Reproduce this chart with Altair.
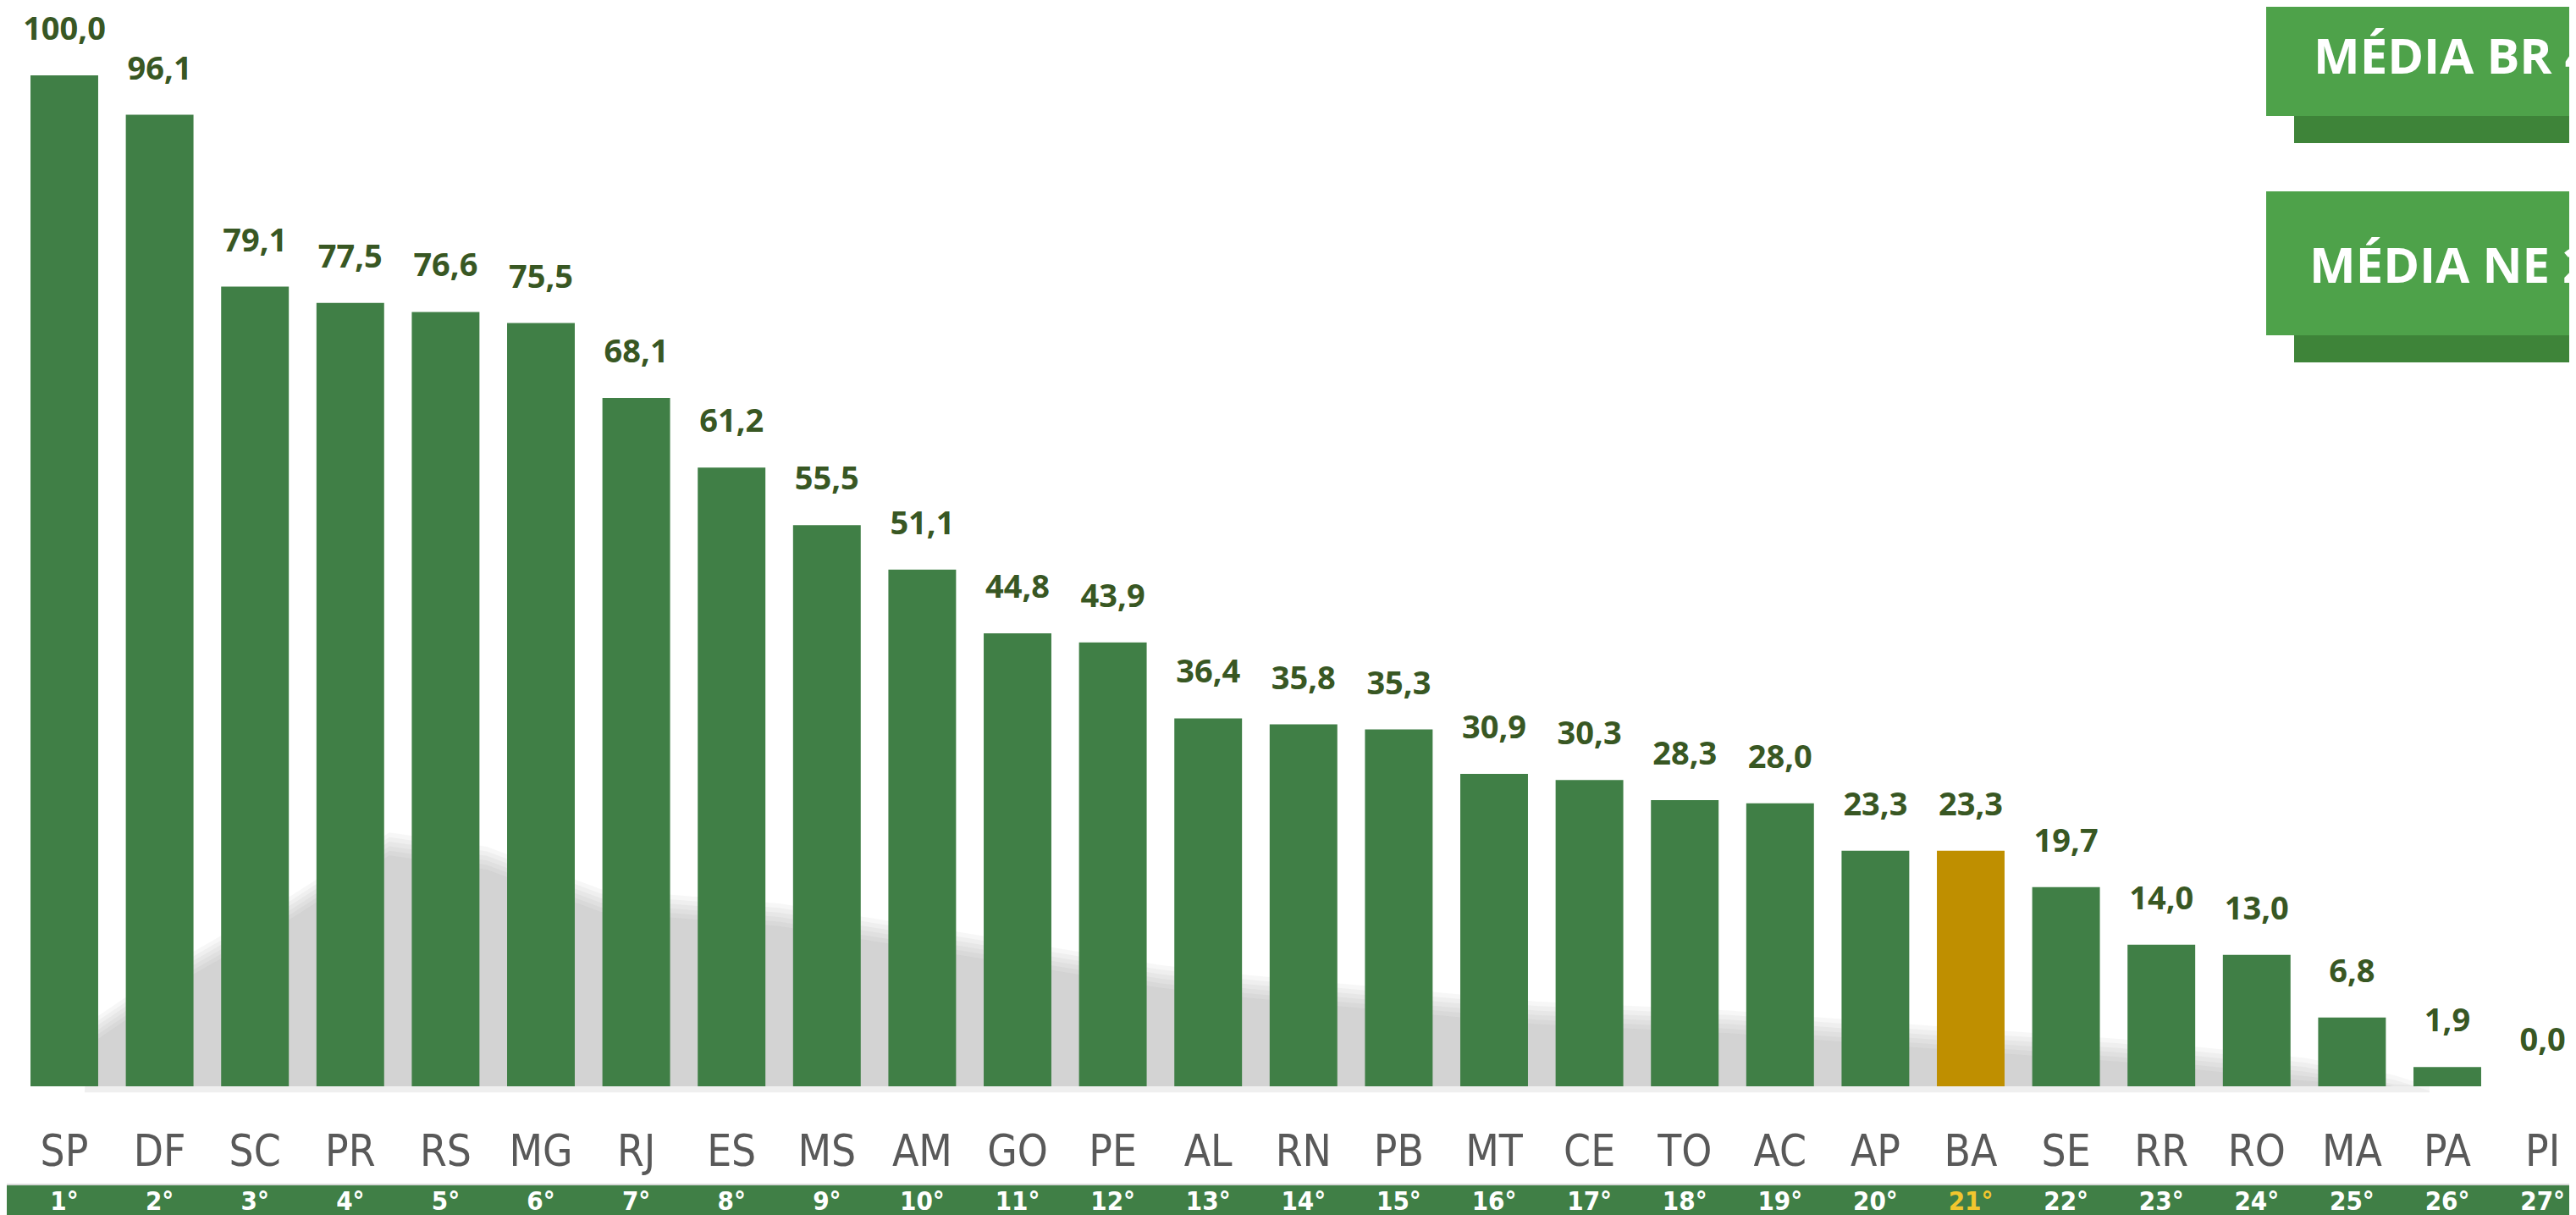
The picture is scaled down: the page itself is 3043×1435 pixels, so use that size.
import altair as alt
import pandas as pd

states = ["SP", "DF", "SC", "PR", "RS", "MG", "RJ", "ES", "MS", "AM", "GO", "PE", "AL", "RN",
          "PB", "MT", "CE", "TO", "AC", "AP", "BA", "SE", "RR", "RO", "MA", "PA", "PI"]
values = [100.0, 96.1, 79.1, 77.5, 76.6, 75.5, 68.1, 61.2, 55.5, 51.1, 44.8, 43.9, 36.4, 35.8,
          35.3, 30.9, 30.3, 28.3, 28.0, 23.3, 23.3, 19.7, 14.0, 13.0, 6.8, 1.9, 0.0]
ranks = ["1°", "2°", "3°", "4°", "5°", "6°", "7°", "8°", "9°", "10°", "11°", "12°", "13°", "14°",
         "15°", "16°", "17°", "18°", "19°", "20°", "21°", "22°", "23°", "24°", "25°", "26°", "27°"]
highlight = "BA"
box_texts = ["MÉDIA BR 42,8", "MÉDIA NE  25,7"]

# decorative soft shadow behind the bars (horizontal pixel position, height in value units)
shadow_px = [92, 107, 222, 337, 452, 567, 702, 912, 1122, 1362, 1467, 1806, 2035, 2255, 2495, 2715, 2820, 2862]
shadow_v = [0.0, 6.9, 13.4, 18.9, 25.1, 23.7, 19.5, 18.1, 15.3, 12.0, 11.0, 8.4, 7.5, 6.1, 4.7, 2.8, 1.1, 0.0]

GREEN = "#407F46"
GOLD = "#BF8F00"
LABEL = "#385723"
BOX = "#4EA24A"
BOX_SHADOW = "#3E8439"
CAT_FONT = "Liberation Sans Narrow, DejaVu Sans Condensed, sans-serif"
W, H = 3027, 1427

df = pd.DataFrame({
    "state": states,
    "value": values,
    "label": [f"{v:.1f}".replace(".", ",") for v in values],
    "rank": ranks,
    "hl": ["h" if s == highlight else "n" for s in states],
})

xscale = alt.Scale(domain=states, range=[11.7, 3051.9], paddingInner=0.29, paddingOuter=0.145)
yscale = alt.Scale(domain=[0, 100], range=[1275, 81], nice=False, zero=True)
X = alt.X("state:N", sort=states, scale=xscale, axis=None)
Y = alt.Y("value:Q", scale=yscale, axis=None)

base = alt.Chart(df)

# shadow layers
shadow_layers = []
for i in range(6):
    low = -0.6 if i < 2 else 0.0
    sdf = pd.DataFrame({
        "px": shadow_px,
        "top": [max(v - i * 0.45, low) for v in shadow_v],
        "bottom": [low] * len(shadow_v),
    })
    shadow_layers.append(
        alt.Chart(sdf).mark_area(color="#6E6E6E", opacity=0.055).encode(
            x=alt.X("px:Q", scale=alt.Scale(domain=[0, W], range=[0, W], nice=False, zero=False), axis=None),
            y=alt.Y("top:Q", scale=yscale, axis=None),
            y2="bottom:Q",
        )
    )
shadow = alt.layer(*shadow_layers)

bars = base.mark_bar().encode(
    x=X, y=Y,
    color=alt.Color("hl:N", scale=alt.Scale(domain=["n", "h"], range=[GREEN, GOLD]), legend=None),
)

vlabels = base.mark_text(
    dy=-42, baseline="alphabetic", align="center", font="Open Sans", fontWeight="bold",
    fontSize=38, color=LABEL,
).encode(x=X, y=Y, text="label:N")

cats = base.mark_text(
    baseline="alphabetic", align="center", font=CAT_FONT, fontSize=51, color="#595959",
).encode(x=X, y=alt.value(1369), text="state:N")

one = alt.Chart(pd.DataFrame({"k": [0]}))

band_line = one.mark_rect(color="#D9D9D9").encode(
    x=alt.value(0), x2=alt.value(W), y=alt.value(1390), y2=alt.value(1392))
band = one.mark_rect(color=GREEN).encode(
    x=alt.value(0), x2=alt.value(W), y=alt.value(1392), y2=alt.value(H))

rank_white = base.transform_filter(alt.datum.hl == "n").mark_text(
    baseline="alphabetic", align="center", font=CAT_FONT, fontWeight="bold", fontSize=31, color="#FFFFFF",
).encode(x=X, y=alt.value(1421), text="rank:N")
rank_gold = base.transform_filter(alt.datum.hl == "h").mark_text(
    baseline="alphabetic", align="center", font=CAT_FONT, fontWeight="bold", fontSize=31, color="#F2C62E",
).encode(x=X, y=alt.value(1421), text="rank:N")

box1s = one.mark_rect(color=BOX_SHADOW, clip=True).encode(
    x=alt.value(2702), x2=alt.value(3100), y=alt.value(129), y2=alt.value(161))
box1 = one.mark_rect(color=BOX, clip=True).encode(
    x=alt.value(2669), x2=alt.value(3100), y=alt.value(0), y2=alt.value(129))
box2s = one.mark_rect(color=BOX_SHADOW, clip=True).encode(
    x=alt.value(2702), x2=alt.value(3100), y=alt.value(388), y2=alt.value(420))
box2 = one.mark_rect(color=BOX, clip=True).encode(
    x=alt.value(2669), x2=alt.value(3100), y=alt.value(218), y2=alt.value(388))

txt1 = one.mark_text(
    align="left", baseline="alphabetic", font="Open Sans", fontWeight="bold", fontSize=58,
    color="white", clip=True, text=box_texts[0],
).encode(x=alt.value(2725), y=alt.value(79))
txt2 = one.mark_text(
    align="left", baseline="alphabetic", font="Open Sans", fontWeight="bold", fontSize=58,
    color="white", clip=True, text=box_texts[1],
).encode(x=alt.value(2720), y=alt.value(326))

main = alt.layer(
    bars, vlabels, cats, band_line, band, rank_white, rank_gold,
    box1s, box1, box2s, box2, txt1, txt2
)

chart = alt.layer(shadow, main).resolve_scale(x="independent").properties(
    width=W, height=H, padding=0, autosize=alt.AutoSizeParams(type="none"), background="white",
).configure_view(stroke=None)

chart.save("out.html", embed_options={"renderer": "svg", "actions": False})
